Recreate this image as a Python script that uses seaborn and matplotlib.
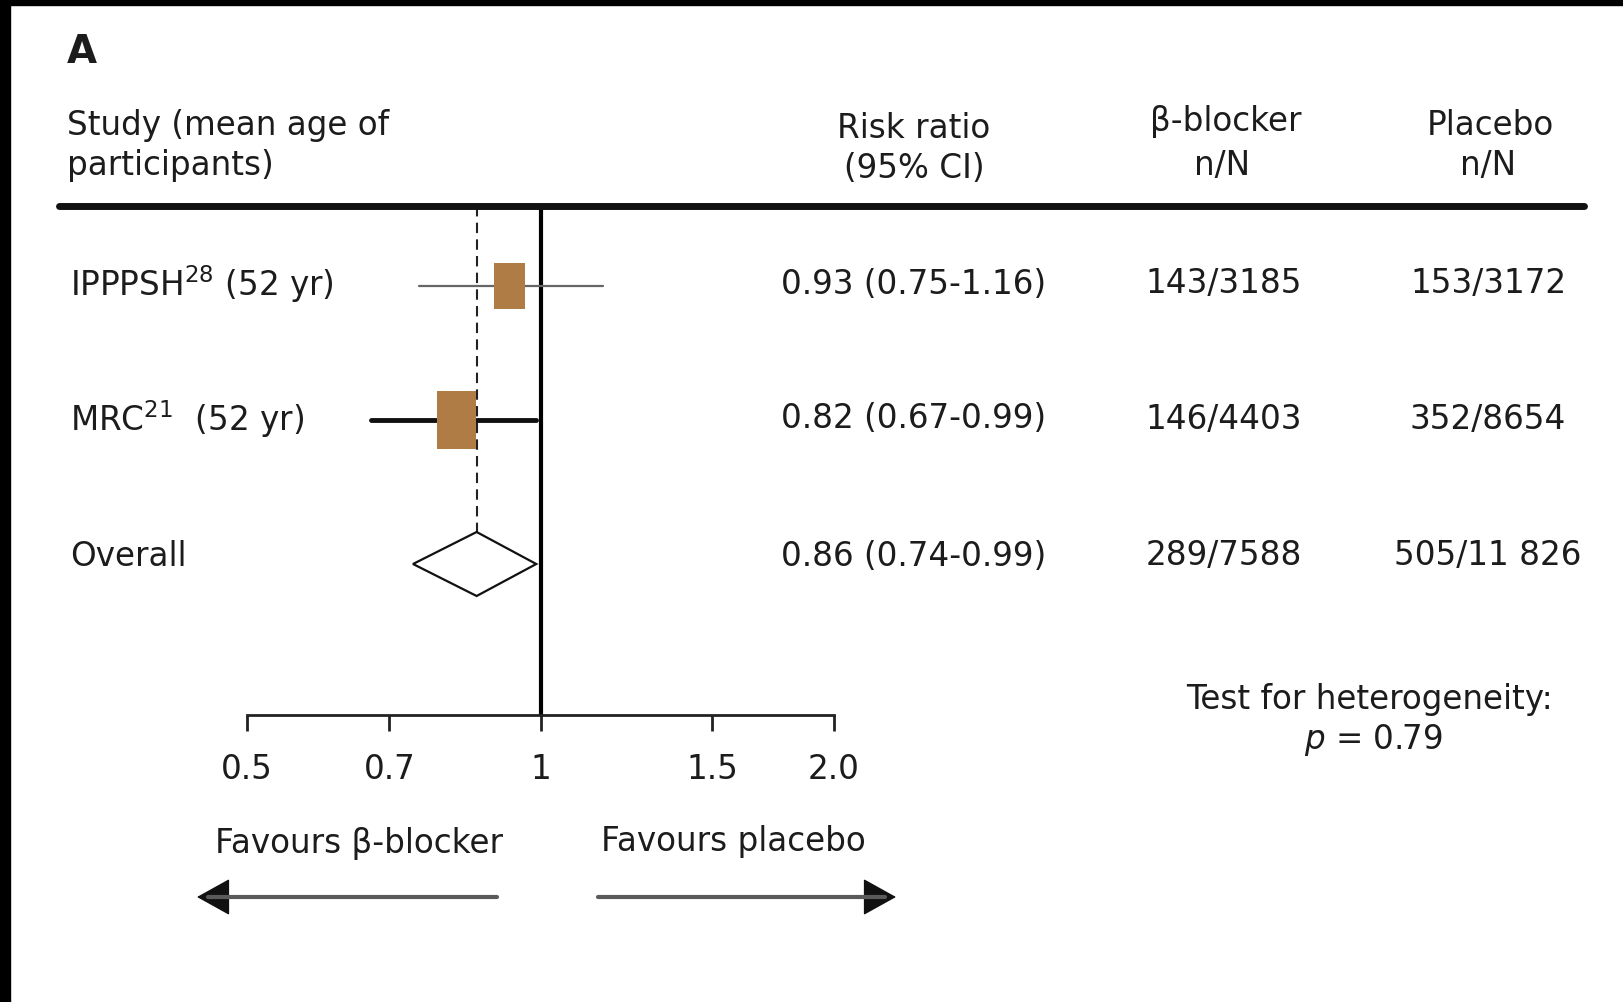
import pandas as pd
import matplotlib
matplotlib.use("Agg")
import matplotlib.pyplot as plt
import seaborn as sns
from matplotlib.lines import Line2D
from matplotlib.patches import Rectangle, FancyArrowPatch, ArrowStyle
from matplotlib.ticker import NullLocator

# Data
studies = ["IPPPSH$^{\\mathrm{28}}$ (52 yr)", "MRC$^{\\mathrm{21}}$  (52 yr)"]
rr = [0.93, 0.82]
ci_low = [0.75, 0.67]
ci_high = [1.16, 0.99]
rr_text = ["0.93 (0.75-1.16)", "0.82 (0.67-0.99)", "0.86 (0.74-0.99)"]
bb_text = ["143/3185", "146/4403", "289/7588"]
pl_text = ["153/3172", "352/8654", "505/11 826"]
overall = [0.74, 0.86, 0.99]
ticks = [0.5, 0.7, 1, 1.5, 2.0]
tick_labels = ["0.5", "0.7", "1", "1.5", "2.0"]

# Layout (pixel rows)
W, H = 1623, 1003
row_y = [287, 421, 565]
text_y = [284, 419, 556]

sns.set_theme(style="white")
plt.rcParams["font.family"] = ["DejaVu Sans"]
plt.rcParams["mathtext.fontset"] = "dejavusans"
txt_col = "#1c1c1c"
fs = 23.5

fig = plt.figure(figsize=(W / 100, H / 100), dpi=100)
fig.patch.set_facecolor("white")


def ftxt(x, y, s, **kw):
    kw.setdefault("fontsize", fs)
    kw.setdefault("color", txt_col)
    kw.setdefault("va", "center")
    fig.text(x / W, 1 - y / H, s, **kw)


# black border bits at top and left
fig.add_artist(Rectangle((0, 1 - 6 / H), 1, 6 / H, transform=fig.transFigure, color="black"))
fig.add_artist(Rectangle((0, 0), 10 / W, 1, transform=fig.transFigure, color="black"))

# Forest axes
ax = fig.add_axes([247 / W, 1 - 716 / H, (834 - 247) / W, (716 - 207) / H])
ax.set_xscale("log")
ax.set_xlim(0.5, 2.0)
ax.set_ylim(716, 207)
ax.set_facecolor("none")
for s in ["top", "left", "right"]:
    ax.spines[s].set_visible(False)
ax.spines["bottom"].set_linewidth(2)
ax.spines["bottom"].set_color("#222222")
ax.set_xticks(ticks)
ax.set_xticklabels(tick_labels)
ax.xaxis.set_minor_locator(NullLocator())
ax.tick_params(axis="x", direction="out", length=11.5, width=2, color="#222222",
               pad=15, labelsize=fs, labelcolor=txt_col, bottom=True)
ax.set_yticks([])

# reference lines
ax.axvline(1, color="black", lw=3)
ax.plot([overall[1], overall[1]], [207, row_y[2]], color="#222222", lw=1.5,
        ls=(0, (5, 3)))

# CI lines
ax.plot([ci_low[0], ci_high[0]], [row_y[0], row_y[0]], color="#666666", lw=1.6)
ax.plot([ci_low[1], ci_high[1]], [row_y[1], row_y[1]], color="#111111", lw=3.5)

# study squares
df = pd.DataFrame({"study": studies, "rr": rr, "row": row_y[:2]})
box = [(-0.68, -1), (0.68, -1), (0.68, 1), (-0.68, 1)]
sns.scatterplot(data=df, x="rr", y="row", size="study",
                sizes={studies[0]: 1050, studies[1]: 1745},
                marker=box, color="#B07C45", linewidth=0, legend=False, ax=ax, zorder=3)
ax.set_xlabel("")
ax.set_ylabel("")

# overall diamond
ax.fill([overall[0], overall[1], overall[2], overall[1]],
        [row_y[2], 533, row_y[2], 597], facecolor="white", edgecolor="#111111",
        lw=1.6, zorder=4)

# Header rule
fig.add_artist(Line2D([59 / W, 1584 / W], [1 - 207 / H, 1 - 207 / H], lw=5, color="#111111"))

# Texts
ftxt(67, 52, "A", fontsize=28, fontweight="bold", ha="left")
ftxt(67, 125, "Study (mean age of", ha="left")
ftxt(67, 165, "participants)", ha="left")
ftxt(914, 129, "Risk ratio", ha="center")
ftxt(914, 168, "(95% CI)", ha="center")
ftxt(1226, 122, "β-blocker", ha="center")
ftxt(1222, 165, "n/N", ha="center")
ftxt(1490, 126, "Placebo", ha="center")
ftxt(1488, 165, "n/N", ha="center")

labels = studies + ["Overall"]
for i in range(3):
    ftxt(70, text_y[i], labels[i], ha="left")
    ftxt(914, text_y[i], rr_text[i], ha="center")
    ftxt(1224, text_y[i], bb_text[i], ha="center")
    ftxt(1488, text_y[i], pl_text[i], ha="center")

ftxt(1369, 699, "Test for heterogeneity:", ha="center")
ftxt(1373, 740, "$p$ = 0.79", ha="center")

ftxt(359, 843, "Favours β-blocker", ha="center")
ftxt(733, 841, "Favours placebo", ha="center")

# arrows: grey shaft, black head
head = ArrowStyle("-|>", head_length=0.9, head_width=0.5)
for x0, x1 in [(497, 197), (598, 896)]:
    step = 22 if x1 < x0 else -22
    fig.add_artist(Line2D([x0 / W, (x1 + step / 2) / W], [1 - 898 / H, 1 - 898 / H],
                          lw=3, color="#5a5a5a"))
    fig.add_artist(FancyArrowPatch(
        ((x1 + step) / W, 1 - 898 / H), (x1 / W, 1 - 898 / H), transform=fig.transFigure,
        arrowstyle=head, mutation_scale=24, lw=1, fc="#111111", ec="#111111",
        shrinkA=0, shrinkB=0))

fig.savefig("out.png", dpi=100, facecolor="white")
